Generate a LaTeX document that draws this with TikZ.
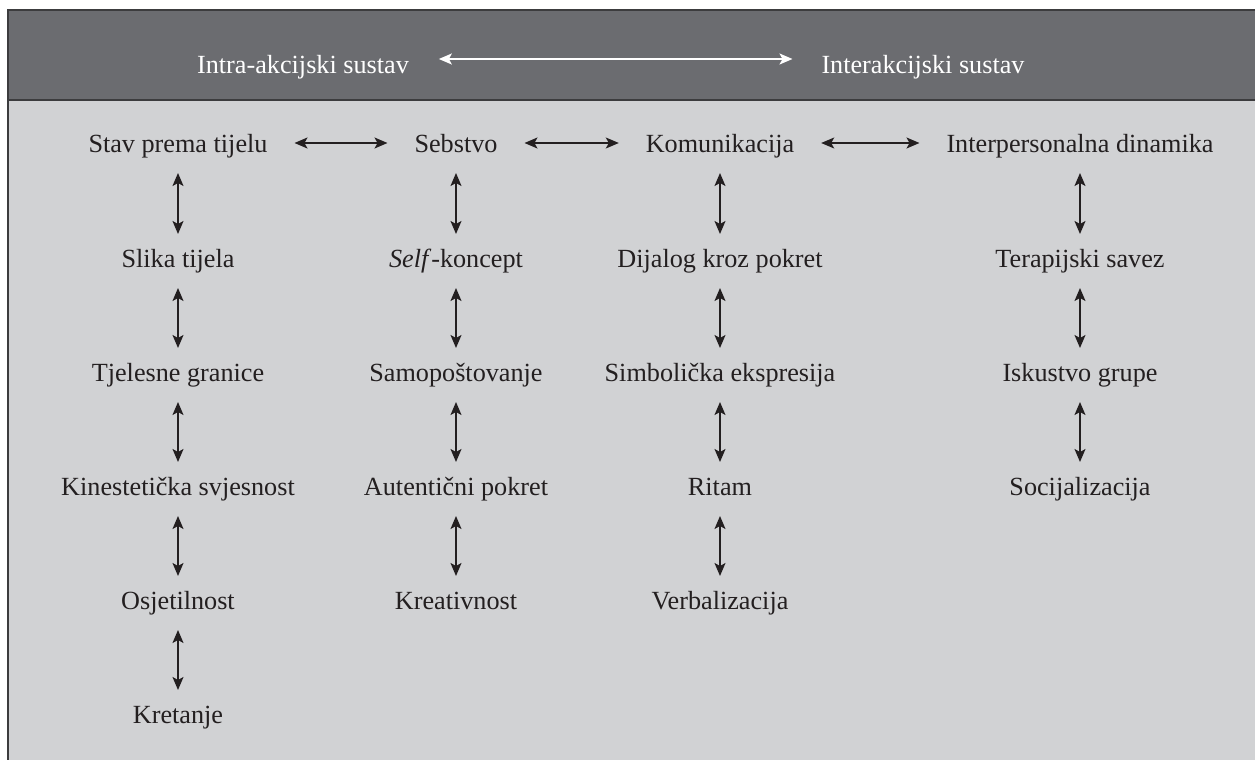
\documentclass[tikz,border=0pt]{standalone}
\usepackage{fontspec}
\setmainfont{Liberation Serif}
\usetikzlibrary{arrows.meta}
\definecolor{hdr}{HTML}{6B6C70}
\definecolor{bodybg}{HTML}{D1D2D4}
\definecolor{frame}{HTML}{3C3C3E}
\definecolor{ink}{HTML}{231F20}
\begin{document}
\begin{tikzpicture}[x=0.5pt,y=-0.5pt,
  lbl/.style={anchor=base,inner sep=0pt,outer sep=0pt,text height=9pt,text depth=0pt,
    font=\fontsize{13.1}{15}\selectfont,text=ink},
  hlbl/.style={lbl,text=white},
  biarrow/.style={draw=ink,line width=0.7pt,{Stealth[length=6.5pt,width=5.5pt,inset=1.5pt]}-{Stealth[length=6.5pt,width=5.5pt,inset=1.5pt]}},
  vlink/.style={biarrow,shorten <=10.5pt,shorten >=7.5pt},
  hlink/.style={biarrow,shorten <=13.5pt,shorten >=13.5pt},
  hdrlink/.style={draw=white,line width=0.7pt,{Stealth[length=6.5pt,width=5.5pt,inset=1.5pt]}-{Stealth[length=6.5pt,width=5.5pt,inset=1.5pt]},shorten <=15pt,shorten >=14.5pt}]
\clip (0,0) rectangle (1255,760);
\fill[white] (0,0) rectangle (1255,760);
% frame
\fill[bodybg] (8,10) rectangle (1300,800);
\fill[hdr] (8,10) rectangle (1300,99.5);
\draw[frame,line width=1pt] (1300,99.5) -- (8,99.5);
\draw[frame,line width=1pt] (8,800) -- (8,10) -- (1300,10);
% header
\node[hlbl] (h1) at (303,73) {Intra-akcijski sustav};
\node[hlbl] (h2) at (923,73) {Interakcijski sustav};
\draw[hdrlink] ([yshift=2.5pt]h1.east) -- ([yshift=2.5pt]h2.west);
% column 1
\node[lbl] (a1) at (178,152) {Stav prema tijelu};
\node[lbl] (a2) at (178,267) {Slika tijela};
\node[lbl] (a3) at (178,381) {Tjelesne granice};
\node[lbl] (a4) at (178,495) {Kinestetička svjesnost};
\node[lbl] (a5) at (178,609) {Osjetilnost};
\node[lbl] (a6) at (178,723) {Kretanje};
% column 2
\node[lbl] (b1) at (456,152) {Sebstvo};
\node[lbl] (b2) at (456,267) {\textit{Self}-koncept};
\node[lbl] (b3) at (456,381) {Samopoštovanje};
\node[lbl] (b4) at (456,495) {Autentični pokret};
\node[lbl] (b5) at (456,609) {Kreativnost};
% column 3
\node[lbl] (c1) at (720,152) {Komunikacija};
\node[lbl] (c2) at (720,267) {Dijalog kroz pokret};
\node[lbl] (c3) at (720,381) {Simbolička ekspresija};
\node[lbl] (c4) at (720,495) {Ritam};
\node[lbl] (c5) at (720,609) {Verbalizacija};
% column 4
\node[lbl] (d1) at (1080,152) {Interpersonalna dinamika};
\node[lbl] (d2) at (1080,267) {Terapijski savez};
\node[lbl] (d3) at (1080,381) {Iskustvo grupe};
\node[lbl] (d4) at (1080,495) {Socijalizacija};
% horizontal links
\draw[hlink] (a1) -- (b1);
\draw[hlink] (b1) -- (c1);
\draw[hlink] (c1) -- (d1);
% vertical links
\foreach \u/\v in {a1/a2,a2/a3,a3/a4,a4/a5,a5/a6,b1/b2,b2/b3,b3/b4,b4/b5,c1/c2,c2/c3,c3/c4,c4/c5,d1/d2,d2/d3,d3/d4}
  \draw[vlink] (\u) -- (\v);
\end{tikzpicture}
\end{document}
